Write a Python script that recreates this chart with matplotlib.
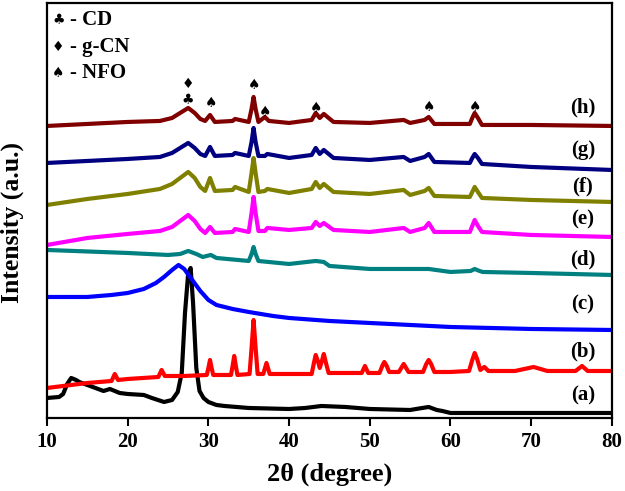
import numpy as np
import matplotlib
matplotlib.use("Agg")
import matplotlib.pyplot as plt

# XRD patterns, heights in arbitrary units (offset stacked)
curve_a = [(10, 20), (11.5, 21), (12.0, 24), (12.5, 34), (13.0, 40), (13.6, 38), (14, 36), (15, 33),
           (16, 30), (17, 27), (17.8, 29), (19, 25), (20, 24), (22, 23), (23, 20), (24.5, 16), (25.5, 18),
           (26.2, 26), (26.7, 45), (27.1, 105), (27.5, 145), (27.8, 150), (28.1, 115), (28.5, 50),
           (28.9, 27), (29.4, 20), (30, 16), (31, 13), (32, 12), (35, 10), (40, 9), (42, 10), (44, 12),
           (47, 11), (50, 9), (55, 8), (56.5, 10), (57.3, 11), (58.3, 8), (59, 7), (60, 5), (65, 5),
           (70, 5), (80, 5)]
curve_b = [(10, 30), (15, 35), (18.0, 37), (18.4, 44), (18.8, 38), (20, 39), (23.8, 41), (24.2, 48),
           (24.6, 42), (27, 42), (29.8, 43), (30.0, 50), (30.2, 58), (30.4, 50), (30.6, 43), (32.8, 43),
           (33.0, 52), (33.2, 62), (33.4, 52), (33.6, 43), (35.1, 44), (35.35, 70), (35.6, 98),
           (35.85, 70), (36.1, 44), (36.8, 44), (37.2, 55), (37.6, 44), (40, 44), (42.8, 44), (43.1, 56),
           (43.3, 63), (43.6, 56), (43.8, 50), (44.1, 58), (44.3, 64), (44.6, 54), (44.9, 45), (47, 45),
           (49.0, 45), (49.4, 52), (49.8, 45), (51.2, 45), (51.6, 53), (51.8, 56), (52.1, 52), (52.4, 46),
           (53.6, 46), (54.2, 54), (54.8, 46), (56.6, 46), (57.0, 54), (57.3, 58), (57.6, 54), (58.0, 46),
           (60, 46), (62.3, 47), (62.7, 58), (63.0, 65), (63.3, 59), (63.7, 48), (64.2, 51), (64.7, 47),
           (68, 47), (70.3, 51), (72, 47), (75.5, 47), (76.3, 52), (77, 47), (80, 47)]
curve_c = [(10, 121), (15, 121), (18, 123), (20, 125), (22, 129), (23.5, 135), (24.5, 141), (25.5, 148),
           (26.3, 153), (27, 149), (28, 138), (29, 127), (30, 118), (31, 113), (33, 109), (35, 106),
           (38, 102), (40, 100), (45, 97), (50, 95), (55, 93), (60, 91), (70, 89), (80, 88)]
curve_d = [(10, 168), (20, 165), (25, 163), (26.5, 164), (27.5, 167), (28.5, 164), (29.3, 161),
           (30.3, 163), (31, 160), (35, 157), (35.35, 164), (35.6, 171), (35.85, 164), (36.2, 157),
           (40, 154), (43.3, 157), (44.3, 156), (45, 152), (50, 149), (57.3, 149), (60, 146), (62.5, 147),
           (63, 149), (63.6, 147), (64, 146), (70, 145), (80, 143)]
curve_e = [(10, 173), (15, 180), (20, 184), (24, 187), (25.5, 191), (26.5, 197), (27.5, 203), (28.3, 197),
           (29, 189), (29.6, 185), (30.2, 191), (30.8, 185), (33, 186), (33.3, 189), (35, 186),
           (35.35, 205), (35.6, 221), (35.85, 205), (36.2, 187), (37, 187), (37.3, 190), (40, 188),
           (42.8, 190), (43.3, 196), (43.8, 192), (44.3, 195), (45.5, 188), (50, 186), (54.2, 190),
           (55, 186), (56.8, 190), (57.3, 195), (58, 186), (62.4, 186), (62.7, 192), (63, 198),
           (63.4, 192), (63.9, 186), (70, 183), (80, 181)]
curve_f = [(10, 213), (15, 219), (20, 224), (24, 229), (25.5, 234), (26.5, 240), (27.5, 246), (28.3, 240),
           (29, 231), (29.6, 227), (30.2, 240), (30.8, 227), (33, 228), (33.3, 231), (35, 226),
           (35.35, 245), (35.6, 260), (35.85, 245), (36.2, 226), (37, 227), (37.3, 229), (40, 225),
           (42.8, 229), (43.3, 236), (43.8, 230), (44.3, 234), (45.5, 226), (50, 224), (54.2, 228),
           (55, 223), (56.8, 227), (57.3, 230), (58, 222), (62.4, 221), (62.7, 226), (63, 231),
           (63.4, 226), (63.9, 220), (70, 218), (80, 216)]
curve_g = [(10, 255), (15, 257), (20, 259), (24, 261), (25.5, 265), (26.5, 270), (27.5, 275), (28.3, 270),
           (29, 264), (29.6, 262), (30.2, 271), (30.8, 262), (33, 263), (33.3, 265), (35, 262),
           (35.35, 276), (35.6, 290), (35.85, 276), (36.2, 262), (37, 262), (37.3, 264), (40, 260),
           (42.8, 263), (43.3, 270), (43.8, 264), (44.3, 268), (45.5, 260), (50, 258), (54.2, 261),
           (55, 257), (56.8, 261), (57.3, 264), (58, 256), (62.4, 255), (62.7, 260), (63, 264),
           (63.4, 260), (63.9, 254), (70, 251), (80, 248)]
curve_h = [(10, 292), (15, 294), (20, 296), (24, 297), (25.5, 300), (26.5, 305), (27.5, 310), (28.3, 305),
           (29, 299), (29.6, 297), (30.2, 303), (30.8, 296), (33, 297), (33.3, 299), (35, 296),
           (35.35, 309), (35.6, 321), (35.85, 309), (36.2, 296), (37, 301), (37.5, 297), (40, 295),
           (42.8, 298), (43.3, 305), (43.8, 300), (44.3, 304), (45.5, 296), (50, 295), (54.2, 298),
           (55, 295), (56.8, 298), (57.3, 301), (58, 294), (62.4, 294), (62.7, 300), (63, 305),
           (63.4, 300), (63.9, 293), (70, 293), (80, 292)]

curves = [curve_a, curve_b, curve_c, curve_d, curve_e, curve_f, curve_g, curve_h]
colors = ['#000000', '#FF0000', '#0000FF', '#008080', '#FF00FF', '#808000', '#000080', '#800000']
labels = ['(a)', '(b)', '(c)', '(d)', '(e)', '(f)', '(g)', '(h)']
label_y = [23, 66, 113, 158, 198, 231, 268, 310]

# peak markers: (symbol, 2theta, height)
peak_marks = [('\u2666', 27.5, 334), ('\u2663', 27.5, 318), ('\u2660', 30.3, 315), ('\u2660', 35.6, 333),
              ('\u2660', 37.0, 306), ('\u2660', 43.3, 310), ('\u2660', 57.3, 311), ('\u2660', 63.0, 311)]
legend_items = [('\u2663', 'CD', 398), ('\u2666', 'g-CN', 371), ('\u2660', 'NFO', 345)]

serif = ['Liberation Serif', 'DejaVu Serif']
sym_font = ['DejaVu Sans']

fig = plt.figure(figsize=(6.25, 4.91), dpi=100)
ax = fig.add_axes([0.0752, 0.1487, 0.9038, 0.8453])

for pts, col in zip(curves, colors):
    arr = np.array(pts)
    ax.plot(arr[:, 0], arr[:, 1], color=col, lw=3.0, solid_joinstyle='round')

for lab, yy in zip(labels, label_y):
    ax.text(76.4, yy, lab, ha='center', va='center', fontsize=15, fontweight='bold', family=serif)

for sym, xx, yy in peak_marks:
    ax.text(xx, yy, sym, ha='center', va='center', fontsize=10, family=sym_font)

for sym, name, yy in legend_items:
    ax.text(11.4, yy, sym, ha='center', va='center', fontsize=10, family=sym_font)
    ax.text(12.8, yy, '- ' + name, ha='left', va='center', fontsize=15, fontweight='bold', family=serif)

ax.set_xlim(10, 80)
ax.set_ylim(0, 415)
ax.set_xticks(np.arange(10, 81, 10))
ax.set_yticks([])
ax.tick_params(axis='x', direction='out', length=6, width=1.5, labelsize=15, pad=4)
for t in ax.get_xticklabels():
    t.set_family(serif)
    t.set_fontweight('bold')
for sp in ax.spines.values():
    sp.set_linewidth(1.6)

ax.set_xlabel('2\u03b8 (degree)', fontsize=19, fontweight='bold', family=serif, labelpad=8)
# y label placed by hand so it sits close to the left edge
fig.text(12 / 625, 1 - 222 / 491, 'Intensity (a.u.)', rotation=90, ha='center', va='center',
         fontsize=18.5, fontweight='bold', family=serif)

fig.savefig('out.png', dpi=100)
